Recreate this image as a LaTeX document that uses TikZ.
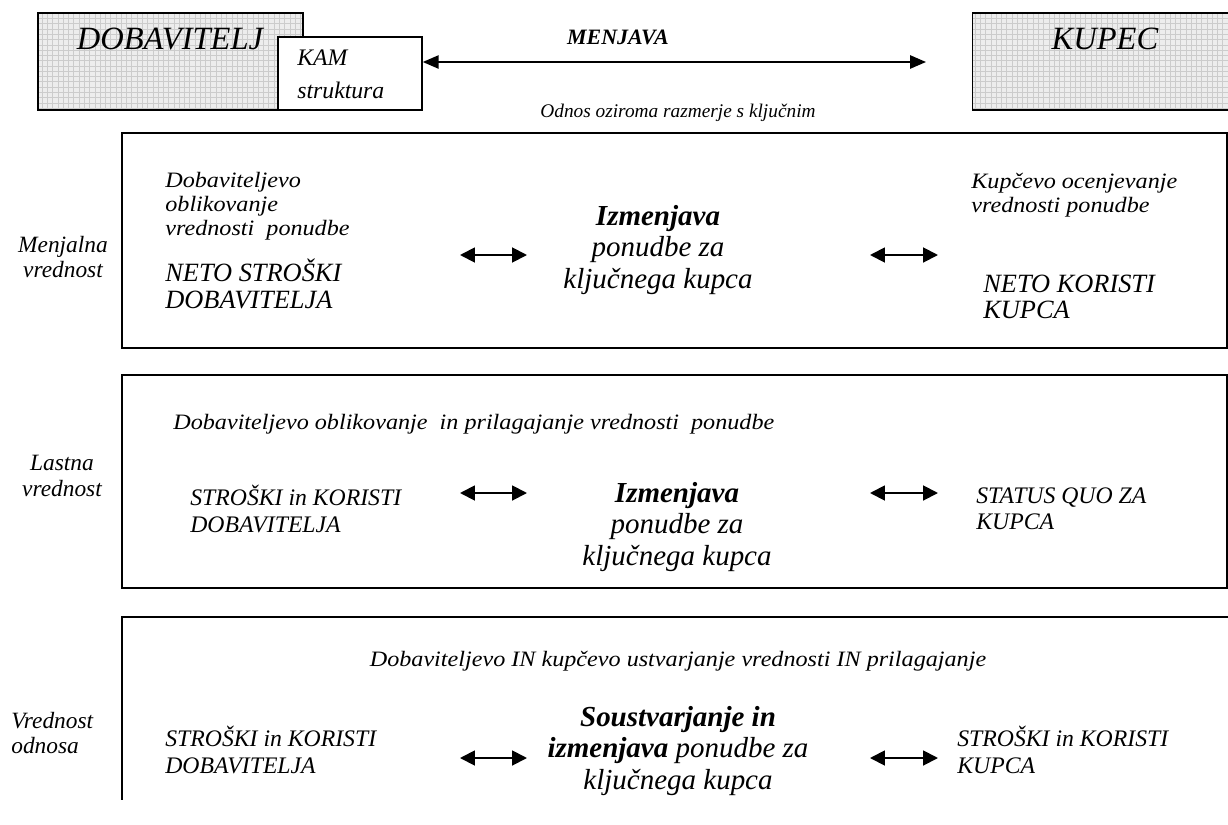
\documentclass[tikz,border=0pt]{standalone}
\usepackage{fontspec}
\setmainfont{Liberation Serif}
\newfontfamily\widefnt{Liberation Serif}[FakeStretch=1.1]
\usetikzlibrary{arrows.meta,positioning,patterns}
\tikzset{
    party/.style={draw, line width=0.9pt, preaction={fill=gray!14},
                  pattern=grid, pattern color=gray!40, inner sep=0pt},
    kambox/.style={draw, line width=0.9pt, fill=white, inner sep=0pt},
    lvl/.style={line width=1.2pt},
    hdr/.style={font=\fontsize{18.5}{20}\selectfont\itshape, inner sep=0pt},
    note/.style={font=\widefnt\fontsize{12.5}{13.8}\selectfont\itshape, align=left,
                 anchor=west, inner sep=0pt},
    cost/.style={font=\fontsize{13.5}{15}\selectfont\itshape, align=left,
                 anchor=west, inner sep=0pt},
    core/.style={font=\fontsize{16.5}{18.2}\selectfont\itshape, align=center,
                 inner sep=0pt},
    side/.style={font=\fontsize{13.3}{14.4}\selectfont\itshape, align=center,
                 inner sep=0pt},
    xch/.style={line width=1.1pt, {Triangle[length=8.5pt,width=8.5pt]}-{Triangle[length=8.5pt,width=8.5pt]}},
}
\begin{document}
\begin{tikzpicture}[x=0.02cm, y=-0.02cm]
    \useasboundingbox (0,0) rectangle (1228,825);

    % parties and the exchange
    \node[party, minimum width=5.3cm, minimum height=1.94cm] (dob) at (170.5,61.5) {};
    \node[hdr] (dobt) at (170,39) {DOBAVITELJ};
    \node[party, minimum width=5.3cm, minimum height=1.94cm] (kup) at (1105,61.5) {};
    \node[hdr] (kupt) at (1105,39) {KUPEC};
    \node[kambox, minimum width=2.88cm, minimum height=1.46cm] (kam) at (350,73.5) {};
    \node[note, font=\fontsize{13.5}{18.7}\selectfont\itshape] (kamt) at (297,74) {KAM\\struktura};
    \coordinate (menj) at (926,62);
    \draw[line width=1pt, {Triangle[length=9pt,width=7.5pt]}-{Triangle[length=9pt,width=7.5pt]}]
        (kam.east |- menj) -- (menj);
    \node[font=\fontsize{12.5}{14}\selectfont\bfseries\itshape] (menjt) at (618,37) {MENJAVA};
    \node[font=\fontsize{11}{13}\selectfont\itshape] (odnos) at (678,113) {Odnos oziroma razmerje s ključnim};

    % three levels
    \draw[lvl] (122,133) rectangle (1227,348);
    \draw[lvl] (122,375) rectangle (1227,588);
    \draw[lvl] (122,687) |- (1230,617);
    \draw[line width=0.6pt] (122,687) -- (122,800);

    \node[side] (lab1) at (63,257) {Menjalna\\vrednost};
    \node[side] (lab2) at (62,476) {Lastna\\vrednost};
    \node[side, align=left, anchor=west] (lab3) at (11,733) {Vrednost\\odnosa};

    % level 1
    \node[note] (n1a) at (165,206) {Dobaviteljevo\\oblikovanje\\vrednosti~ ponudbe};
    \node[cost, font=\fontsize{15}{15.2}\selectfont\itshape] (c1a) at (165,284) {NETO STROŠKI\\DOBAVITELJA};
    \node[core] (m1) at (658,250) {\textbf{Izmenjava}\\ponudbe za\\ključnega kupca};
    \node[note] (n1b) at (971,195) {Kupčevo ocenjevanje\\vrednosti ponudbe};
    \node[cost, font=\fontsize{15}{15.2}\selectfont\itshape] (c1b) at (983,297) {NETO KORISTI\\KUPCA};

    % level 2
    \node[note] (n2) at (173,424) {Dobaviteljevo oblikovanje~ in prilagajanje vrednosti~ ponudbe};
    \node[cost] (c2a) at (190,509) {STROŠKI in KORISTI\\DOBAVITELJA};
    \node[core] (m2) at (677,527) {\textbf{Izmenjava}\\ponudbe za\\ključnega kupca};
    \node[cost] (c2b) at (976,509) {STATUS QUO ZA\\KUPCA};

    % level 3
    \node[note, anchor=center] (n3) at (678,661) {Dobaviteljevo IN kupčevo ustvarjanje vrednosti IN prilagajanje};
    \node[cost] (c3a) at (165,750) {STROŠKI in KORISTI\\DOBAVITELJA};
    \node[core] (m3) at (678,751) {\textbf{Soustvarjanje in}\\\textbf{izmenjava} ponudbe za\\ključnega kupca};
    \node[cost] (c3b) at (957,750) {STROŠKI in KORISTI\\KUPCA};

    % small exchange arrows
    \foreach \r/\y in {a/255, b/493, c/758} {
        \coordinate (\r l1) at (460,\y);
        \coordinate (\r l2) at (527,\y);
        \coordinate (\r r1) at (870,\y);
        \coordinate (\r r2) at (938,\y);
        \draw[xch] (\r l1) -- (\r l2);
        \draw[xch] (\r r1) -- (\r r2);
    }
\end{tikzpicture}
\end{document}
